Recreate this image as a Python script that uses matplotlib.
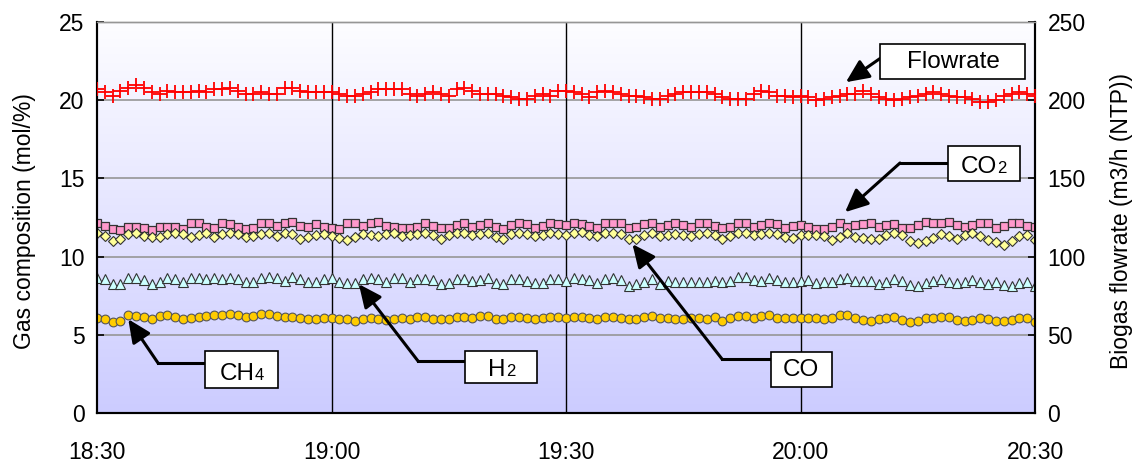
import numpy as np
import matplotlib
matplotlib.use('Agg')
import matplotlib.pyplot as plt
from matplotlib.lines import Line2D
from matplotlib.patches import Rectangle

plt.rcParams['font.family'] = ['Liberation Sans', 'DejaVu Sans']

# --- Données (une mesure par minute, 18:30 -> 20:30) ---
minutes = np.arange(0, 121)
tick_pos = [0, 30, 60, 90, 120]
tick_labels = ['18:30', '19:00', '19:30', '20:00', '20:30']

flowrate = [207, 205, 203, 206, 208, 210, 208, 205, 204, 206, 205, 205, 205, 206, 205, 207, 207, 208, 206, 204,
            204, 205, 204, 204, 208, 208, 206, 205, 205, 205, 205, 204, 203, 203, 204, 205, 207, 207, 207, 207,
            204, 203, 204, 205, 204, 203, 207, 208, 206, 204, 204, 204, 203, 202, 201, 201, 203, 204, 203, 206,
            206, 205, 204, 202, 205, 206, 205, 204, 203, 203, 202, 201, 201, 203, 204, 205, 205, 205, 205, 204,
            202, 201, 201, 201, 204, 206, 205, 203, 203, 202, 203, 202, 200, 201, 202, 203, 204, 204, 206, 204,
            202, 201, 200, 201, 202, 203, 204, 205, 204, 203, 202, 202, 201, 199, 199, 200, 203, 204, 205, 204, 203]

co2 = [12.12, 11.97, 11.76, 11.70, 11.87, 11.91, 11.82, 11.70, 11.87, 11.91, 11.87, 11.76, 12.12, 12.12, 11.87, 11.82, 12.12, 12.08, 11.87, 11.74,
       11.82, 12.12, 12.12, 11.97, 12.18, 12.24, 11.97, 11.87, 12.08, 11.91, 11.80, 11.74, 12.12, 12.12, 11.95, 12.18, 12.22, 11.97, 11.87, 11.80,
       11.85, 11.90, 12.12, 11.95, 11.80, 11.80, 12.05, 12.15, 11.92, 12.05, 12.15, 11.90, 11.78, 12.02, 12.15, 12.10, 11.85, 11.95, 12.12, 12.10,
       12.00, 12.12, 12.10, 11.95, 11.80, 12.12, 12.12, 12.12, 11.85, 11.90, 12.10, 12.15, 11.90, 12.05, 12.15, 12.05, 11.90, 12.12, 12.12, 11.95,
       11.85, 11.90, 12.18, 12.18, 11.90, 12.05, 12.15, 12.10, 11.85, 11.95, 12.05, 11.90, 11.75, 11.75, 11.90, 12.15, 11.90, 12.00, 12.10, 12.12,
       11.90, 12.05, 12.08, 11.80, 11.85, 12.05, 12.20, 12.18, 12.18, 12.20, 12.05, 11.90, 12.05, 12.12, 12.12, 11.85, 11.95, 12.15, 12.15, 11.95, 11.90]

co = [11.48, 11.34, 11.01, 11.12, 11.44, 11.48, 11.34, 11.23, 11.27, 11.44, 11.54, 11.44, 11.23, 11.38, 11.48, 11.27, 11.44, 11.54, 11.44, 11.23,
      11.30, 11.45, 11.48, 11.34, 11.50, 11.42, 11.15, 11.25, 11.38, 11.42, 11.30, 11.20, 11.05, 11.25, 11.42, 11.35, 11.30, 11.42, 11.48, 11.30,
      11.40, 11.45, 11.48, 11.40, 11.10, 11.35, 11.48, 11.50, 11.35, 11.45, 11.48, 11.25, 11.15, 11.45, 11.50, 11.42, 11.30, 11.38, 11.48, 11.42,
      11.40, 11.50, 11.55, 11.40, 11.30, 11.48, 11.50, 11.45, 11.10, 11.15, 11.35, 11.48, 11.30, 11.40, 11.45, 11.40, 11.30, 11.45, 11.48, 11.35,
      11.10, 11.30, 11.48, 11.48, 11.35, 11.45, 11.48, 11.45, 11.25, 11.20, 11.35, 11.40, 11.40, 11.30, 11.05, 11.25, 11.48, 11.28, 11.20, 11.10,
      11.10, 11.35, 11.48, 11.40, 11.00, 10.85, 11.00, 11.20, 11.45, 11.30, 11.15, 11.35, 11.50, 11.30, 11.05, 10.95, 10.75, 11.00, 11.30, 11.40, 11.05]

h2 = [8.62, 8.56, 8.24, 8.24, 8.62, 8.62, 8.49, 8.24, 8.35, 8.62, 8.56, 8.35, 8.62, 8.62, 8.56, 8.62, 8.56, 8.62, 8.56, 8.35,
      8.35, 8.60, 8.68, 8.66, 8.45, 8.68, 8.55, 8.35, 8.35, 8.55, 8.62, 8.35, 8.32, 8.30, 8.55, 8.60, 8.55, 8.35, 8.62, 8.60,
      8.35, 8.58, 8.58, 8.50, 8.25, 8.30, 8.55, 8.55, 8.45, 8.52, 8.65, 8.30, 8.22, 8.58, 8.58, 8.45, 8.30, 8.32, 8.55, 8.55,
      8.45, 8.60, 8.55, 8.50, 8.30, 8.55, 8.62, 8.50, 8.15, 8.25, 8.35, 8.55, 8.25, 8.45, 8.35, 8.40, 8.35, 8.40, 8.40, 8.45,
      8.35, 8.45, 8.70, 8.70, 8.50, 8.45, 8.62, 8.50, 8.40, 8.35, 8.45, 8.50, 8.30, 8.35, 8.40, 8.55, 8.65, 8.45, 8.45, 8.45,
      8.25, 8.40, 8.55, 8.45, 8.20, 8.15, 8.30, 8.45, 8.55, 8.35, 8.30, 8.40, 8.50, 8.35, 8.25, 8.40, 8.20, 8.15, 8.30, 8.40, 8.10]

ch4 = [6.07, 6.01, 5.80, 5.90, 6.28, 6.22, 6.11, 6.01, 6.22, 6.28, 6.16, 6.01, 6.07, 6.16, 6.22, 6.28, 6.28, 6.33, 6.28, 6.16,
       6.22, 6.33, 6.30, 6.22, 6.16, 6.16, 6.10, 6.03, 6.03, 6.10, 6.05, 6.03, 5.98, 5.90, 6.03, 6.07, 6.03, 5.95, 6.03, 6.05,
       6.03, 6.16, 6.12, 6.03, 5.98, 6.03, 6.15, 6.15, 6.10, 6.22, 6.18, 6.03, 6.00, 6.15, 6.15, 6.10, 6.00, 6.10, 6.16, 6.16,
       6.05, 6.16, 6.12, 6.05, 6.00, 6.15, 6.16, 6.08, 5.98, 6.00, 6.16, 6.18, 6.05, 6.08, 6.02, 6.03, 6.08, 6.05, 6.00, 6.16,
       5.90, 6.10, 6.22, 6.20, 6.05, 6.18, 6.25, 6.05, 6.08, 6.10, 6.08, 6.10, 6.10, 6.03, 6.08, 6.25, 6.25, 6.05, 5.95, 5.90,
       6.00, 6.10, 6.12, 5.95, 5.85, 5.90, 6.05, 6.08, 6.12, 6.15, 5.95, 5.90, 5.92, 6.05, 6.00, 5.90, 5.88, 5.95, 6.10, 6.10, 5.85]

W, H = 1139, 463


def fp(x, y):
    # pixels (origine en haut à gauche) -> fraction de figure
    return x / W, 1 - y / H


fig = plt.figure(figsize=(W / 100, H / 100), dpi=100)
ax = fig.add_axes([97 / W, 1 - 413 / H, (1035 - 97) / W, (413 - 22) / H])
ax2 = ax.twinx()

# fond dégradé blanc -> lavande
grad = np.linspace(0, 1, 256).reshape(-1, 1)
cmap = matplotlib.colors.LinearSegmentedColormap.from_list('bg', ['#ccccff', '#fdfdff'])
ax.imshow(grad, extent=[0, 120, 0, 25], origin='lower', aspect='auto', cmap=cmap, zorder=0)

ax.set_xlim(0, 120)
ax.set_ylim(0, 25)
ax2.set_ylim(0, 250)

for yv in [5, 10, 15, 20]:
    ax.axhline(yv, color='#969696', lw=1.2, zorder=1)
for xv in [30, 60, 90]:
    ax.axvline(xv, color='black', lw=1.0, zorder=1)

ms = 6.3
ax.plot(minutes, co2, ls='none', marker='s', ms=ms, mfc='#ff99cc', mec='#333333', mew=0.9, zorder=3)
ax.plot(minutes, co, ls='none', marker='D', ms=ms - 0.8, mfc='#ffff99', mec='#333333', mew=0.8, zorder=3)
ax.plot(minutes, h2, ls='none', marker='^', ms=ms + 0.8, mfc='#ccffff', mec='#333333', mew=0.8, zorder=3)
ax.plot(minutes, ch4, ls='none', marker='o', ms=ms, mfc='#ffcc00', mec='#555555', mew=0.8, zorder=3)
ax2.plot(minutes, flowrate, ls='none', marker='+', ms=9.5, mec='#ff0000', mew=1.3, zorder=3)

ax.set_xticks(tick_pos)
ax.set_xticklabels(tick_labels)
ax.set_yticks(np.arange(0, 26, 5))
ax2.set_yticks(np.arange(0, 251, 50))
ax.tick_params(axis='x', length=0, pad=20, labelsize=16.5)
ax.tick_params(axis='y', direction='in', length=5, width=1.2, labelsize=16.5, pad=9)
ax2.tick_params(axis='y', direction='in', length=5, width=1.2, labelsize=16.5, pad=9)

for a in (ax, ax2):
    for s in ['left', 'right', 'bottom']:
        a.spines[s].set_color('black')
        a.spines[s].set_linewidth(1.5)
    a.spines['top'].set_color('#969696')
    a.spines['top'].set_linewidth(1.0)

ax.set_ylabel('Gas composition (mol/%)', fontsize=16.5)
ax2.set_ylabel('Biogas flowrate (m3/h (NTP))', fontsize=16.5)
ax.yaxis.set_label_coords((36 - 97) / 938, 0.49)
ax2.yaxis.set_label_coords((1110 - 97) / 938, 0.49)

# --- étiquettes avec flèches ---
labels = [
    # texte, indice, boîte (x0, y0, x1, y1) en pixels, point du texte, coude, pointe (axe, x, y)
    ('Flowrate', '', (880, 44, 1025, 79), (953, 62), None, (ax2, 95.8, 211.5)),
    ('CO', '2', (948, 146, 1020, 181), (997, 173), (900, 163), (ax, 95.7, 12.84)),
    ('CO', '', (771, 352, 832, 387), (801, 370), (722, 359), (ax, 68.5, 10.8)),
    ('H', '2', (465, 351, 537, 383), (506, 376), (418, 361), (ax, 33.5, 8.24)),
    ('CH', '4', (205, 351, 278, 388), (255, 380), (158, 363), (ax, 4.0, 6.0)),
]

for txt, sub, box, tpos, elbow, tip in labels:
    x0, y0, x1, y1 = box
    fx0, fy1 = fp(x0, y1)
    rect = Rectangle((fx0, fy1), (x1 - x0) / W, (y1 - y0) / H, transform=fig.transFigure,
                     facecolor='white', edgecolor='black', lw=1.2, zorder=10)
    fig.add_artist(rect)
    if sub:
        fig.text(*fp(*tpos), txt, ha='right', va='baseline', fontsize=17.5, zorder=11)
        fig.text(*fp(*tpos), sub, ha='left', va='baseline', fontsize=12, zorder=11)
    else:
        fig.text(*fp(*tpos), txt, ha='center', va='center', fontsize=17.5, zorder=11)
    ymid = (y0 + y1) / 2
    if elbow is None:
        start = (x0, ymid - 3)
    else:
        start = elbow
        fig.add_artist(Line2D([x0 / W, elbow[0] / W], [1 - elbow[1] / H, 1 - elbow[1] / H],
                              transform=fig.transFigure, color='black', lw=2.2, zorder=9))
    tax, tx, ty = tip
    tax.annotate('', xy=(tx, ty), xycoords='data',
                 xytext=fp(*start), textcoords='figure fraction',
                 arrowprops=dict(arrowstyle='-|>,head_length=0.7,head_width=0.32', color='black',
                                 lw=2.2, mutation_scale=20, shrinkA=0, shrinkB=0),
                 zorder=9, annotation_clip=False)

fig.savefig('out.png', dpi=100)
